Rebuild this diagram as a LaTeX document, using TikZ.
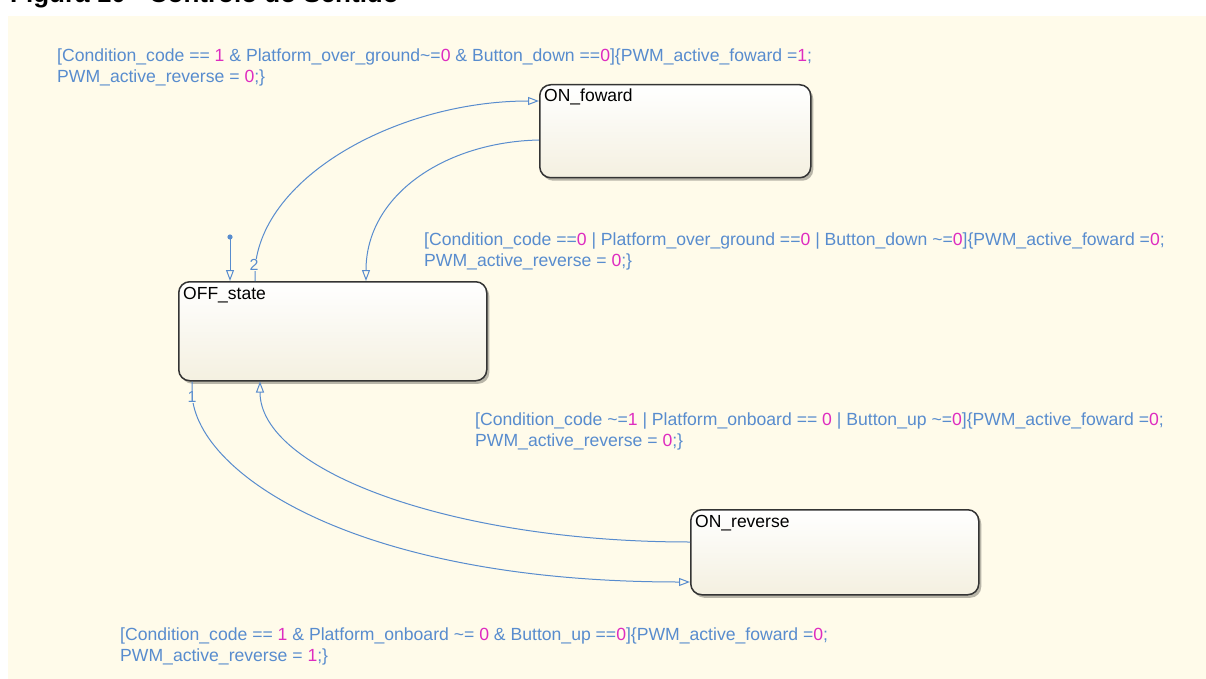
\documentclass[tikz,border=0pt]{standalone}
\usepackage{fontspec}
\setmainfont{Liberation Sans}
\usetikzlibrary{arrows.meta,shadows}

\definecolor{chartbg}{RGB}{255,251,234}
\definecolor{trans}{RGB}{88,140,206}
\definecolor{num}{RGB}{222,44,192}
\definecolor{stateedge}{RGB}{52,52,52}
\definecolor{statebot}{RGB}{244,240,224}

\newcommand{\nv}[1]{\textcolor{num}{#1}}
\newcommand{\us}{\_}

\tikzset{
  chartstate/.style={draw=stateedge, line width=1.5pt, rounded corners=11pt,
    top color=white, bottom color=statebot,
    drop shadow={shadow xshift=2.5pt, shadow yshift=-3pt, fill=black, opacity=0.28},
    inner sep=0pt},
  statename/.style={anchor=base west, inner sep=0pt, text=black,
    font=\fontsize{17.5}{20}\selectfont},
  guard/.style={anchor=base west, inner sep=0pt, align=left, text=trans,
    font=\fontsize{17.6}{21}\selectfont},
  tnum/.style={inner sep=0pt, text=trans, font=\fontsize{16}{18}\selectfont},
  trline/.style={draw=trans, line width=1pt,
    -{Triangle[open, length=11pt, width=8pt, line width=1pt]}},
}

\begin{document}
\begin{tikzpicture}[x=1pt, y=-1pt]
\useasboundingbox (0,0) rectangle (1206,679);

% figure caption above the chart area
\node[anchor=base west, inner sep=0pt, font=\bfseries\fontsize{26}{30}\selectfont]
  (caption) at (10,3) {Figura 10 - Controlo do Sentido};

% chart canvas
\fill[chartbg] (8,16) rectangle (1206,679);

% states
\node[chartstate, minimum width=271pt, minimum height=93pt, anchor=north west]
  (onf) at (539,84) {};
\node[chartstate, minimum width=308pt, minimum height=99pt, anchor=north west]
  (off) at (178,281) {};
\node[chartstate, minimum width=288pt, minimum height=85pt, anchor=north west]
  (onr) at (690,509) {};

\node[statename] (onfname) at ([xshift=5pt, yshift=-18pt]onf.north west) {ON\us foward};
\node[statename] (offname) at ([xshift=5pt, yshift=-18pt]off.north west) {OFF\us state};
\node[statename] (onrname) at ([xshift=5pt, yshift=-18pt]onr.north west) {ON\us reverse};

% default transition
\coordinate (dflt) at (230,237);
\fill[trans] (dflt) circle (2.6pt);
\draw[trline] (dflt) -- (dflt |- off.north);

% OFF_state -> ON_foward (priority 2)
\coordinate (t2a) at ([xshift=77pt]off.north west);
\coordinate (t2b) at ([yshift=-17pt]onf.north west);
\draw[trline] (t2a) -- ++(0,-12)
  .. controls (262,175) and (400,101) .. (t2b);
\node[tnum, fill=chartbg, inner sep=0.5pt] (n2) at (254,265) {2};

% ON_foward -> OFF_state
\coordinate (fba) at ([yshift=-56pt]onf.north west);
\coordinate (fbb) at ([xshift=188pt]off.north west);
\draw[trline] (fba) .. controls (445,142) and (366,195) .. (fbb);

% OFF_state -> ON_reverse (priority 1)
\coordinate (t1a) at ([xshift=14pt]off.south west);
\coordinate (t1b) at ([yshift=-73pt]onr.north west);
\draw[trline] (t1a) -- ++(0,10)
  .. controls (192,470) and (350,582) .. (t1b);
\node[tnum, fill=chartbg, inner sep=0.5pt] (n1) at (192,397) {1};

% ON_reverse -> OFF_state
\coordinate (rba) at ([yshift=-33pt]onr.north west);
\coordinate (rbb) at ([xshift=82pt]off.south west);
\draw[trline] (rba) .. controls (450,542) and (260,470) .. (rbb);

% transition labels (node base = baseline of the second line)
\node[guard] (g2) at (57,83)
  {[Condition\us code == \nv{1} \& Platform\us over\us ground\textasciitilde=\nv{0} \& Button\us down ==\nv{0}]\{PWM\us active\us foward =\nv{1};\\
   PWM\us active\us reverse = \nv{0};\}};
\node[guard] (gfb) at (424,266)
  {[Condition\us code ==\nv{0} | Platform\us over\us ground ==\nv{0} | Button\us down \textasciitilde=\nv{0}]\{PWM\us active\us foward =\nv{0};\\
   PWM\us active\us reverse = \nv{0};\}};
\node[guard] (grb) at (475,446)
  {[Condition\us code \textasciitilde=\nv{1} | Platform\us onboard == \nv{0} | Button\us up \textasciitilde=\nv{0}]\{PWM\us active\us foward =\nv{0};\\
   PWM\us active\us reverse = \nv{0};\}};
\node[guard] (g1) at (120,661)
  {[Condition\us code == \nv{1} \& Platform\us onboard \textasciitilde= \nv{0} \& Button\us up ==\nv{0}]\{PWM\us active\us foward =\nv{0};\\
   PWM\us active\us reverse = \nv{1};\}};
\end{tikzpicture}
\end{document}
